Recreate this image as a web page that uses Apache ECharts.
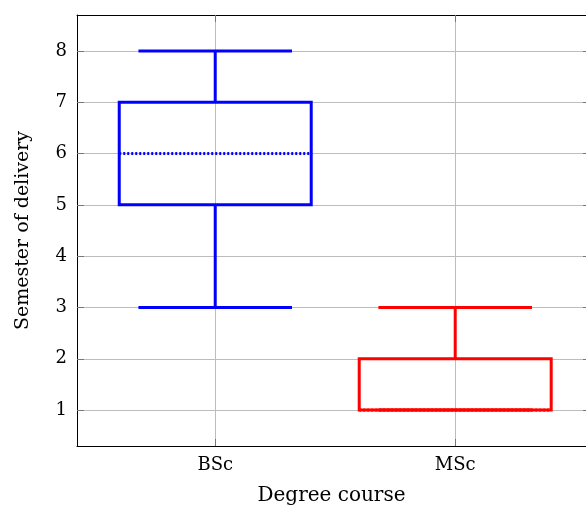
<!DOCTYPE html>
<html>
<head>
<meta charset="utf-8">
<script src="https://cdn.jsdelivr.net/npm/echarts@6/dist/echarts.min.js"></script>
<style>
  html, body { margin: 0; padding: 0; background: #fff; }
  #chart { width: 586px; height: 512px; }
</style>
</head>
<body>
<div id="chart"></div>
<script>
// box plot statistics per degree course
var categories = ['BSc', 'MSc'];
var positions = [1, 2];
var lowerWhisker = [3, 1];
var lowerQuartile = [5, 1];
var median = [6, 1];
var upperQuartile = [7, 2];
var upperWhisker = [8, 3];
var colors = ['#0000ff', '#ff0000'];
var yTicks = [1, 2, 3, 4, 5, 6, 7, 8];

var fontFamily = 'DejaVu Serif';
var boxHalf = 0.4, capHalf = 0.32;
var xMin = 0.424, xMax = 2.545;

var data = categories.map(function (c, i) {
    return [positions[i], lowerWhisker[i], lowerQuartile[i], median[i], upperQuartile[i], upperWhisker[i], i];
});

function renderBox(params, api) {
    var x = api.value(0);
    var col = colors[api.value(6)];
    var pLow = api.coord([x, api.value(1)]);
    var pQ1 = api.coord([x, api.value(2)]);
    var pMed = api.coord([x, api.value(3)]);
    var pQ3 = api.coord([x, api.value(4)]);
    var pHigh = api.coord([x, api.value(5)]);
    var bl = api.coord([x - boxHalf, 0])[0], br = api.coord([x + boxHalf, 0])[0];
    var cl = api.coord([x - capHalf, 0])[0], cr = api.coord([x + capHalf, 0])[0];
    var st = { stroke: col, lineWidth: 3, fill: null };
    return {
        type: 'group',
        children: [
            { type: 'line', shape: { x1: pLow[0], y1: pLow[1], x2: pQ1[0], y2: pQ1[1] }, style: st },
            { type: 'line', shape: { x1: pQ3[0], y1: pQ3[1], x2: pHigh[0], y2: pHigh[1] }, style: st },
            { type: 'line', shape: { x1: cl, y1: pLow[1], x2: cr, y2: pLow[1] }, style: st },
            { type: 'line', shape: { x1: cl, y1: pHigh[1], x2: cr, y2: pHigh[1] }, style: st },
            { type: 'rect', shape: { x: bl, y: pQ3[1], width: br - bl, height: pQ1[1] - pQ3[1] }, style: st },
            { type: 'line', shape: { x1: bl, y1: pMed[1], x2: br, y2: pMed[1] },
              style: { stroke: col, lineWidth: 3, lineDash: [2, 2] } }
        ]
    };
}

var labelStyle = { color: '#000', fontFamily: fontFamily, fontSize: 18 };

var option = {
    animation: false,
    backgroundColor: '#fff',
    grid: { left: 77, right: 0, top: 15, bottom: 66 },
    xAxis: [{
        type: 'value',
        min: xMin,
        max: xMax,
        name: 'Degree course',
        nameLocation: 'middle',
        nameGap: 40,
        nameTextStyle: { color: '#000', fontFamily: fontFamily, fontSize: 20 },
        axisLine: { show: true, lineStyle: { color: '#000', width: 1 } },
        axisTick: { show: true, inside: true, length: 7, customValues: positions, lineStyle: { color: '#777' } },
        axisLabel: Object.assign({ customValues: positions, margin: 10,
            formatter: function (v) { return categories[positions.indexOf(v)] || ''; } }, labelStyle),
        splitLine: { show: true, lineStyle: { color: '#bdbdbd', width: 1 } }
    }, {
        type: 'value',
        position: 'top',
        min: xMin,
        max: xMax,
        axisLine: { show: true, lineStyle: { color: '#000', width: 1 } },
        axisTick: { show: true, inside: true, length: 7, customValues: positions, lineStyle: { color: '#777' } },
        axisLabel: { show: false },
        splitLine: { show: false }
    }],
    yAxis: [{
        type: 'value',
        min: 0.3,
        max: 8.7,
        name: 'Semester of delivery',
        nameLocation: 'middle',
        nameGap: 44,
        nameTextStyle: { color: '#000', fontFamily: fontFamily, fontSize: 19 },
        axisLine: { show: true, lineStyle: { color: '#000', width: 1 } },
        axisTick: { show: true, inside: true, length: 7, customValues: yTicks, lineStyle: { color: '#777' } },
        axisLabel: Object.assign({ customValues: yTicks, margin: 10 }, labelStyle),
        splitLine: { show: true, lineStyle: { color: '#bdbdbd', width: 1 } }
    }, {
        type: 'value',
        position: 'right',
        min: 0.3,
        max: 8.7,
        axisLine: { show: false },
        axisTick: { show: true, inside: true, length: 3, customValues: yTicks, lineStyle: { color: '#777' } },
        axisLabel: { show: false },
        splitLine: { show: false }
    }],
    series: [{
        type: 'custom',
        renderItem: renderBox,
        data: data,
        encode: { x: 0, y: [1, 2, 3, 4, 5] },
        clip: false
    }]
};

var myChart = echarts.init(document.getElementById('chart'));
myChart.setOption(option);
</script>
</body>
</html>
